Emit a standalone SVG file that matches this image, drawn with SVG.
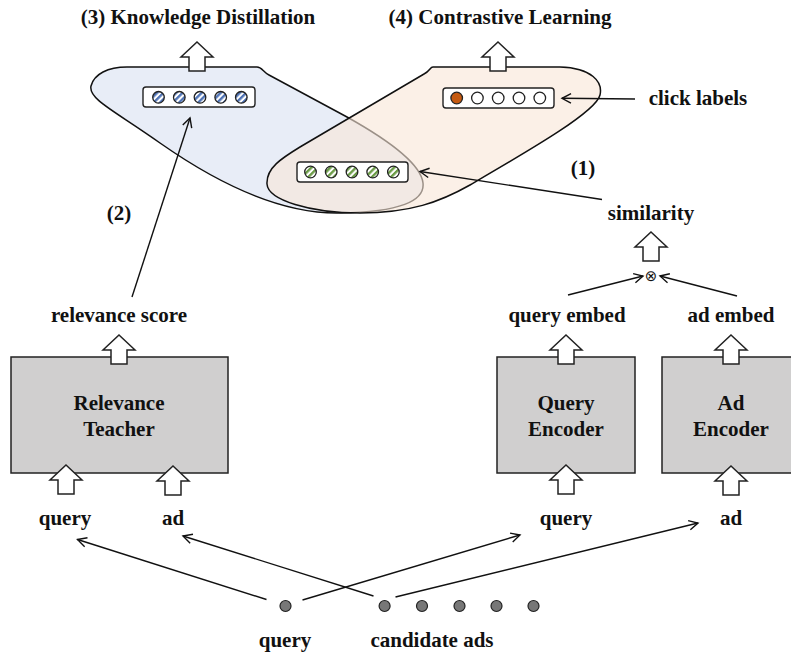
<svg xmlns="http://www.w3.org/2000/svg" width="791" height="657" viewBox="0 0 791 657">
<style>
text{font-family:"Liberation Serif","Times New Roman",serif;font-weight:bold;font-size:21px;fill:#111;text-anchor:middle}
.box{fill:#d0cfcf;stroke:#222;stroke-width:1.5}
.blk{fill:#fff;stroke:#222;stroke-width:1.5;stroke-linejoin:miter}
.vec{fill:#fff;stroke:#222;stroke-width:1.4}
.c{stroke:#222;stroke-width:1.3}
.dot{fill:#777;stroke:#222;stroke-width:1.2}
.conn line{stroke:#111;stroke-width:1.4;fill:none;marker-end:url(#ah)}
</style>
<defs>
<pattern id="pb" width="4.5" height="4.5" patternUnits="userSpaceOnUse" patternTransform="rotate(45)">
<rect width="4.5" height="4.5" fill="#fff"/><rect width="2.4" height="4.5" fill="#4f73b5"/>
</pattern>
<pattern id="pg" width="4.5" height="4.5" patternUnits="userSpaceOnUse" patternTransform="rotate(45)">
<rect width="4.5" height="4.5" fill="#fff"/><rect width="2.4" height="4.5" fill="#6a9b45"/>
</pattern>
<path id="blk" d="M0,0 L16,15 L8,15 L8,29 L-8,29 L-8,15 L-16,15 Z"/>
<marker id="ah" markerUnits="userSpaceOnUse" markerWidth="14" markerHeight="14" refX="10" refY="6" orient="auto" viewBox="0 0 14 12">
<path d="M1,1.3 L10,6 L1,10.7" fill="none" stroke="#111" stroke-width="1.4"/>
</marker>
</defs>

<g id="blob-kd">
<path d="M127,67 L257,67 C262,67 263,72 269,75 L347,117 C390,141 421,165 423,183 C425,201 400,212 340,213 C290,214 230,192 160,143 C115,111 88,99 91,86 C94,74 108,67 127,67 Z" fill="#e8edf7" stroke="#111" stroke-width="1.5"/>
</g>
<g id="blob-cl">
<path d="M433,67 L560,67 C592,68 603,82 600,95 C596,112 530,150 470,185 C440,202 410,213 360,213 C310,213 268,200 267,184 C266,168 282,158 300,147 L424,74 C430,71 430,67 433,67 Z" fill="#f8e6d7" fill-opacity="0.6" stroke="#111" stroke-width="1.5"/>
</g>

<g id="vec-teacher">
<rect class="vec" x="143" y="87" width="112" height="20" rx="3"/>
<circle class="c" cx="158.5" cy="97.3" r="5.8" fill="url(#pb)"/>
<circle class="c" cx="179.3" cy="97.3" r="5.8" fill="url(#pb)"/>
<circle class="c" cx="200" cy="97.3" r="5.8" fill="url(#pb)"/>
<circle class="c" cx="220.7" cy="97.3" r="5.8" fill="url(#pb)"/>
<circle class="c" cx="241.3" cy="97.3" r="5.8" fill="url(#pb)"/>
</g>
<g id="vec-sim">
<rect class="vec" x="297" y="162" width="111" height="20" rx="3"/>
<circle class="c" cx="310.5" cy="172" r="5.8" fill="url(#pg)"/>
<circle class="c" cx="331.2" cy="172" r="5.8" fill="url(#pg)"/>
<circle class="c" cx="352" cy="172" r="5.8" fill="url(#pg)"/>
<circle class="c" cx="372.7" cy="172" r="5.8" fill="url(#pg)"/>
<circle class="c" cx="393.4" cy="172" r="5.8" fill="url(#pg)"/>
</g>
<g id="vec-click">
<rect class="vec" x="443" y="88" width="111" height="20" rx="3"/>
<circle class="c" cx="456.7" cy="98" r="5.8" fill="#c55a11"/>
<circle class="c" cx="477.4" cy="98" r="5.8" fill="#fff"/>
<circle class="c" cx="498.2" cy="98" r="5.8" fill="#fff"/>
<circle class="c" cx="519" cy="98" r="5.8" fill="#fff"/>
<circle class="c" cx="539.8" cy="98" r="5.8" fill="#fff"/>
</g>

<g id="teacher">
<rect class="box" x="11" y="357" width="217" height="116"/>
<text x="119" y="410">Relevance</text>
<text x="119" y="436">Teacher</text>
</g>
<g id="query-encoder">
<rect class="box" x="497" y="357" width="138" height="116"/>
<text x="566" y="410">Query</text>
<text x="566" y="436">Encoder</text>
</g>
<g id="ad-encoder">
<rect class="box" x="662" y="357" width="140" height="116"/>
<text x="731" y="410">Ad</text>
<text x="731" y="436">Encoder</text>
</g>

<g id="block-arrows">
<use href="#blk" class="blk" x="197" y="42"/>
<use href="#blk" class="blk" x="498" y="42"/>
<use href="#blk" class="blk" x="651" y="232"/>
<use href="#blk" class="blk" x="119" y="335"/>
<use href="#blk" class="blk" x="66" y="465"/>
<use href="#blk" class="blk" x="173" y="466"/>
<use href="#blk" class="blk" x="566" y="335"/>
<use href="#blk" class="blk" x="731" y="335"/>
<use href="#blk" class="blk" x="566" y="465"/>
<use href="#blk" class="blk" x="731" y="466"/>
</g>

<g id="labels">
<text x="198" y="24">(3) Knowledge Distillation</text>
<text x="500" y="24">(4) Contrastive Learning</text>
<text x="698" y="105">click labels</text>
<text x="583" y="175">(1)</text>
<text x="651" y="220">similarity</text>
<text x="119" y="220">(2)</text>
<text x="119" y="322">relevance score</text>
<text x="567" y="322">query embed</text>
<text x="731" y="322">ad embed</text>
<text x="65" y="525">query</text>
<text x="173" y="525">ad</text>
<text x="566" y="525">query</text>
<text x="731" y="525">ad</text>
<text x="285" y="647">query</text>
<text x="432" y="647">candidate ads</text>
<text x="651" y="280.5" style="font-family:'DejaVu Sans',sans-serif;font-weight:normal;font-size:15px">⊗</text>
</g>

<g id="inputs">
<circle class="dot" cx="285.5" cy="606" r="5.5"/>
<circle class="dot" cx="384.6" cy="606" r="5.5"/>
<circle class="dot" cx="422" cy="606" r="5.5"/>
<circle class="dot" cx="459.5" cy="606" r="5.5"/>
<circle class="dot" cx="496.5" cy="606" r="5.5"/>
<circle class="dot" cx="533.5" cy="606" r="5.5"/>
</g>

<g id="connectors" class="conn">
<line x1="266.5" y1="599.5" x2="77.5" y2="539.5"/>
<line x1="373.5" y1="596" x2="183" y2="536"/>
<line x1="302.5" y1="600" x2="520" y2="535"/>
<line x1="395.5" y1="597" x2="698" y2="523"/>
<line x1="132" y1="297" x2="190" y2="118"/>
<line x1="602" y1="199.5" x2="420" y2="171.5"/>
<line x1="635" y1="99" x2="562" y2="98.3"/>
<line x1="568" y1="295" x2="643" y2="276"/>
<line x1="737" y1="296" x2="660" y2="276"/>
</g>
</svg>
